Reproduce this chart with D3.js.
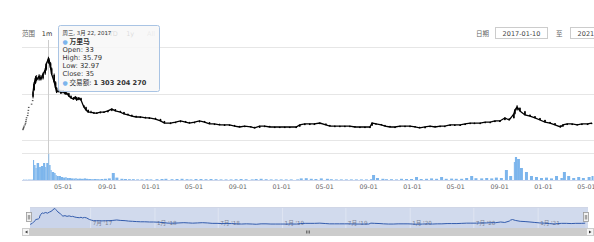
<!DOCTYPE html>
<html>
<head>
<meta charset="utf-8">
<script src="https://cdn.jsdelivr.net/npm/d3@7"></script>
<style>
  body { margin: 0; background: #fff; }
  text { font-family: "DejaVu Sans", "Noto Sans CJK SC", sans-serif; }
</style>
</head>
<body>
<div id="chart"></div>
<script>
// Declare constants
const FRAME_WIDTH = 594;
const FRAME_HEIGHT = 242;

// data: 万里马 daily candles (sampled) and 交易额
const dates = [
  "2017-01-10","2017-01-11","2017-01-12","2017-01-13","2017-01-16","2017-01-17","2017-01-18","2017-01-19",
  "2017-01-20","2017-01-23","2017-01-24","2017-01-25","2017-01-26","2017-02-03","2017-02-06",
  "2017-02-07","2017-02-10","2017-02-14","2017-02-17","2017-02-24","2017-03-01","2017-03-07","2017-03-13",
  "2017-03-16","2017-03-22","2017-03-24","2017-03-28","2017-03-31","2017-04-07","2017-04-11","2017-04-14",
  "2017-04-20","2017-04-26","2017-05-02","2017-05-08","2017-05-12","2017-05-18","2017-05-24","2017-05-31",
  "2017-06-05","2017-06-09","2017-06-15","2017-06-21","2017-06-29","2017-07-05","2017-07-11","2017-07-19",
  "2017-07-27","2017-08-04","2017-08-14","2017-08-24","2017-09-04","2017-09-15","2017-09-25","2017-10-09",
  "2017-10-19","2017-10-30","2017-11-10","2017-11-22","2017-12-04","2017-12-18","2017-12-29",
  "2018-01-15","2018-01-29","2018-02-09","2018-02-26","2018-03-12","2018-03-26","2018-04-09","2018-04-20",
  "2018-05-04","2018-05-18","2018-06-01","2018-06-15","2018-06-29","2018-07-13","2018-07-27","2018-08-10",
  "2018-08-24","2018-09-07","2018-09-21","2018-10-08","2018-10-19","2018-11-02","2018-11-16","2018-11-30",
  "2018-12-14","2018-12-28","2019-01-11","2019-01-25","2019-02-12","2019-02-22","2019-03-08","2019-03-22",
  "2019-04-04","2019-04-19","2019-05-06","2019-05-17","2019-05-31","2019-06-14","2019-06-28","2019-07-12",
  "2019-07-26","2019-08-09","2019-08-23","2019-09-06","2019-09-12","2019-09-23","2019-10-08","2019-10-18",
  "2019-11-01","2019-11-15","2019-11-29","2019-12-13","2019-12-27","2020-01-10","2020-01-23","2020-02-07",
  "2020-02-21","2020-03-06","2020-03-20","2020-04-02","2020-04-17","2020-04-30","2020-05-15","2020-05-29",
  "2020-06-12","2020-06-24","2020-07-10","2020-07-24","2020-08-07","2020-08-20","2020-09-03","2020-09-17",
  "2020-09-29","2020-10-12","2020-10-15","2020-10-21","2020-10-29","2020-11-12","2020-11-26","2020-12-10",
  "2020-12-24","2021-01-07","2021-01-21","2021-02-04","2021-02-19","2021-02-26","2021-03-10","2021-03-24",
  "2021-04-07","2021-04-20","2021-05-06","2021-05-17"
];
const open = [
  4.45,4.90,5.39,5.93,6.52,7.17,7.89,8.68,9.55,10.51,11.56,12.72,13.99,15.39,16.93,
  18.6,21.5,24.5,27.0,26.0,27.2,26.5,28.6,30.3,33,34.5,33.0,30.8,28.0,24.8,22.3,
  20.8,21.3,20.3,21.0,19.8,20.1,18.9,18.2,17.6,18.4,17.3,18.0,14.8,14.1,12.9,12.0,
  11.9,11.7,11.6,12.1,12.0,12.6,13.2,12.4,12.0,11.2,10.8,10.3,9.9,9.9,9.5,
  9.4,9.0,8.1,7.3,7.4,7.8,8.1,7.7,7.3,7.7,8.1,7.6,6.8,6.9,6.5,6.5,
  6.4,6.0,5.7,5.9,5.5,5.3,6.0,6.0,5.6,5.6,5.6,5.6,5.6,5.8,6.6,6.9,
  6.9,7.0,7.0,6.4,6.0,6.0,6.0,6.0,5.9,5.6,5.6,5.6,6.2,7.1,6.8,6.4,
  6.0,5.6,5.7,6.0,6.0,5.9,5.6,5.2,5.7,6.0,5.7,6.0,6.1,6.5,6.5,6.6,
  7.0,7.3,7.3,7.4,7.7,7.8,8.2,8.6,9.2,9.4,11.3,13.0,13.8,12.3,10.8,10.2,
  9.4,8.6,7.7,7.2,6.2,5.8,6.6,6.9,6.8,6.6,6.8,7.0
];
const high = [
  4.45,4.90,5.39,5.93,6.52,7.17,7.89,8.68,9.55,10.51,11.56,12.72,13.99,15.39,16.93,
  20.9,24.8,27.6,27.9,28.3,28.0,29.0,30.8,33.2,35.79,35.2,33.6,31.2,28.6,25.3,22.8,
  22.2,21.6,21.5,21.2,20.6,20.3,19.2,18.5,18.8,18.6,18.4,18.2,15.0,14.3,13.1,12.6,
  12.1,11.9,12.3,12.3,12.8,13.6,13.3,12.6,12.1,11.4,10.9,10.5,10.2,10.0,9.8,
  9.6,9.1,8.2,7.6,7.9,8.4,8.2,7.8,7.9,8.4,8.2,7.7,7.1,7.0,6.8,6.7,
  6.5,6.1,6.2,6.0,5.7,6.2,6.3,6.1,5.8,5.7,5.8,5.7,5.9,6.7,7.2,7.2,
  7.3,7.6,7.1,6.5,6.3,6.2,6.2,6.2,6.0,5.8,5.8,5.9,7.6,7.2,6.9,6.5,
  6.1,5.8,6.2,6.2,6.3,6.0,5.7,5.8,6.2,6.1,6.2,6.2,6.7,6.7,6.7,7.1,
  7.5,7.5,7.6,7.9,7.9,8.4,8.5,9.8,9.3,11.4,13.2,15.0,14.0,12.5,11.0,10.3,
  9.5,8.7,7.8,7.3,6.3,6.7,7.2,7.1,6.9,7.1,7.1,7.5
];
const low = [
  4.45,4.90,5.39,5.93,6.52,7.17,7.89,8.68,9.55,10.51,11.56,12.72,13.99,15.39,16.93,
  17.9,21.0,24.0,25.2,25.5,25.6,26.0,28.0,29.8,32.97,32.8,30.4,27.9,24.6,22.0,20.2,
  20.4,19.8,20.0,19.5,19.4,18.6,17.8,17.3,17.4,16.9,17.1,16.9,14.0,12.7,11.8,11.7,
  11.4,11.4,11.5,11.8,11.9,12.4,12.3,11.8,11.0,10.6,10.1,9.7,9.7,9.3,9.3,
  8.8,8.0,7.1,7.1,7.3,7.6,7.5,7.1,7.2,7.6,7.5,6.8,6.6,6.3,6.3,6.3,
  5.8,5.4,5.6,5.5,5.0,5.2,5.8,5.5,5.4,5.3,5.4,5.3,5.5,5.7,6.4,6.7,
  6.7,6.9,6.3,5.9,5.9,5.8,5.8,5.8,5.5,5.4,5.4,5.4,6.1,6.7,6.3,5.9,
  5.5,5.4,5.6,5.8,5.8,5.5,5.0,5.0,5.6,5.5,5.6,5.8,6.0,6.3,6.3,6.5,
  6.9,7.1,7.0,7.3,7.5,7.7,8.0,8.5,8.5,9.3,11.0,12.6,12.3,10.6,10.1,9.3,
  8.5,7.6,7.1,6.3,5.4,5.7,6.5,6.7,6.3,6.5,6.7,6.9
];
const close = [
  4.45,4.90,5.39,5.93,6.52,7.17,7.89,8.68,9.55,10.51,11.56,12.72,13.99,15.39,16.93,
  20.6,24.1,26.7,25.8,27.5,26.2,28.4,30.1,32.7,35,33.5,31.0,28.4,25.0,22.4,20.6,
  21.5,20.2,21.1,19.8,20.2,18.9,18.1,17.6,18.5,17.2,18.1,17.2,14.2,12.9,12.0,12.0,
  11.6,11.6,12.0,12.0,12.5,13.3,12.5,12.0,11.2,10.8,10.3,9.9,9.9,9.5,9.5,
  9.0,8.2,7.3,7.3,7.7,8.2,7.7,7.3,7.7,8.2,7.7,6.9,6.9,6.5,6.5,6.5,
  6.0,5.6,6.0,5.6,5.2,6.0,6.0,5.6,5.6,5.6,5.6,5.6,5.6,6.5,6.9,6.9,
  6.9,7.3,6.5,6.0,6.0,6.0,6.0,6.0,5.6,5.6,5.6,5.6,7.3,6.9,6.5,6.0,
  5.6,5.6,6.0,6.0,6.0,5.6,5.2,5.6,6.0,5.6,6.0,6.0,6.5,6.5,6.5,6.9,
  7.3,7.3,7.3,7.7,7.7,8.2,8.2,9.5,8.6,11.2,12.9,14.2,12.5,10.8,10.3,9.5,
  8.6,7.7,7.3,6.5,5.6,6.5,6.9,6.9,6.5,6.9,6.9,7.3
];
// 交易额, yuan
const volume = [
  2e7,1e7,1e7,1e7,1e7,1e7,1e7,1e7,1e7,1e7,1e7,1e7,2e7,2e7,3e7,
  1.0e9,7.5e8,6.0e8,8.5e8,6.5e8,7.0e8,8.5e8,6.5e8,8.5e8,1303204270,7.5e8,5.0e8,4.0e8,3.5e8,2.5e8,2.0e8,
  2.0e8,1.5e8,1.2e8,1.4e8,1.0e8,1.0e8,8e7,7e7,9e7,6e7,7e7,6e7,8e7,6e7,5e7,4e7,
  5e7,4e7,5e7,6e7,8e7,3.5e8,1.2e8,6e7,5e7,4e7,4e7,3e7,3e7,4e7,3e7,
  4e7,5e7,6e7,4e7,5e7,6e7,4e7,3e7,5e7,5e7,4e7,5e7,4e7,3e7,3e7,3e7,
  4e7,5e7,4e7,3e7,5e7,6e7,4e7,3e7,3e7,3e7,3e7,3e7,3e7,8e7,9e7,6e7,
  5e7,8e7,6e7,4e7,3e7,3e7,3e7,3e7,3e7,3e7,3e7,4e7,2.5e8,1.0e8,6e7,4e7,
  4e7,3e7,6e7,5e7,5e7,1.5e8,5e7,6e7,8e7,6e7,1.5e8,6e7,7e7,6e7,6e7,1.0e8,
  2.0e8,9e7,8e7,1.0e8,8e7,1.2e8,1.0e8,5.0e8,2.0e8,9.0e8,1.15e9,1.05e9,6.0e8,4.0e8,2.0e8,1.5e8,
  1.0e8,1.2e8,8e7,2.0e8,1.0e8,4.0e8,2.0e8,1.0e8,1.5e8,1.0e8,1.5e8,2.0e8
];
const xTickDates = ["2017-05-01","2017-09-01","2018-01-01","2018-05-01","2018-09-01","2019-01-01","2019-05-01",
  "2019-09-01","2020-01-01","2020-05-01","2020-09-01","2021-01-01","2021-05-01"];
const navTickDates = ["2017-07-01","2018-01-01","2018-07-01","2019-01-01","2019-07-01","2020-01-01",
  "2020-07-01","2021-01-01"];
const priceTicks = [0, 20, 40];
const rangeButtons = ["1m","3m","6m","YTD","1y","All"];
const hiddenButtons = ["3m","6m"]; // fully covered by the tooltip header
const tooltipRows = ["Open: 33", "High: 35.79", "Low: 32.97", "Close: 35"];

const parse = d3.timeParse("%Y-%m-%d");
const rows = dates.map((d, i) => ({date: parse(d), o: open[i], h: high[i], l: low[i], c: close[i], v: volume[i]}));

const svg = d3.select("#chart").append("svg")
  .attr("width", FRAME_WIDTH).attr("height", FRAME_HEIGHT);

// scales
const x = d3.scaleTime().domain([parse("2017-01-10"), parse("2021-05-25")]).range([23, 594.4]);
const y = d3.scaleLinear().domain([0, 40]).range([140, 47]);
const yVol = d3.scaleLinear().domain([0, 1.35e9]).range([180, 153]);
const xNav = d3.scaleTime().domain(x.domain()).range([30, 588]);
const yNav = d3.scaleLinear().domain([0, 36]).range([227, 208]);

// grid lines
svg.append("g").selectAll("line").data(priceTicks).enter().append("line")
  .attr("x1", 22).attr("x2", FRAME_WIDTH)
  .attr("y1", d => Math.round(y(d)) + 0.5).attr("y2", d => Math.round(y(d)) + 0.5)
  .attr("stroke", "#e6e6e6");
svg.append("line").attr("x1", 22).attr("x2", FRAME_WIDTH)
  .attr("y1", Math.round(yVol(1.35e9)) + 0.5).attr("y2", Math.round(yVol(1.35e9)) + 0.5)
  .attr("stroke", "#e6e6e6");

// crosshair
svg.append("line").attr("x1", Math.round(x(parse("2017-03-22"))) + 0.5).attr("x2", Math.round(x(parse("2017-03-22"))) + 0.5)
  .attr("y1", 40).attr("y2", 180).attr("stroke", "#cccccc");

// volume columns
svg.append("g").selectAll("rect").data(rows).enter().append("rect")
  .attr("x", d => x(d.date))
  .attr("width", (d, i) => i < rows.length - 1 ? Math.min(3, Math.max(0.8, x(rows[i + 1].date) - x(d.date))) : 2)
  .attr("y", d => yVol(d.v))
  .attr("height", d => 180 - yVol(d.v))
  .attr("fill", "#7cb5ec");

// x axis
const xAxis = svg.append("g").attr("transform", "translate(0,180)")
  .call(d3.axisBottom(x).tickValues(xTickDates.map(parse)).tickFormat(d3.timeFormat("%m-%d")).tickSize(0).tickPadding(5));
xAxis.select(".domain").attr("stroke", "#ccd6eb").attr("d", "M22,0.5H594");
xAxis.selectAll("text").attr("fill", "#666").style("font-size", "6.3px")
  .style("font-family", "DejaVu Sans, sans-serif");

// price: close line + candles
const isOnePrice = d => d.o === d.h && d.h === d.l && d.l === d.c;
const priceLine = d3.line().defined(d => !isOnePrice(d)).x(d => x(d.date)).y(d => y(d.c));
svg.append("path").datum(rows).attr("d", priceLine)
  .attr("fill", "none").attr("stroke", "#000").attr("stroke-width", 1.3);
const candles = svg.append("g").selectAll("g").data(rows).enter().append("g");
candles.append("line")
  .attr("x1", d => x(d.date)).attr("x2", d => x(d.date))
  .attr("y1", d => y(d.h)).attr("y2", d => y(d.l))
  .attr("stroke", "#000").attr("stroke-width", 0.9);
candles.append("rect")
  .attr("x", d => x(d.date) - 0.8).attr("width", 1.6)
  .attr("y", d => y(Math.max(d.o, d.c)) - (isOnePrice(d) ? 0.6 : 0))
  .attr("height", d => Math.max(1.1, Math.abs(y(d.o) - y(d.c))))
  .attr("fill", d => isOnePrice(d) ? "#555" : "#000");

// navigator
const nav = svg.append("g");
nav.append("path").datum(rows)
  .attr("d", d3.area().x(d => xNav(d.date)).y0(228).y1(d => yNav(d.c)))
  .attr("fill", "#335cad").attr("fill-opacity", 0.05);
nav.append("rect").attr("x", 30).attr("y", 207).attr("width", 558).attr("height", 21)
  .attr("fill", "rgba(102,133,194,0.3)");
const navAxis = nav.append("g").attr("transform", "translate(0,228)")
  .call(d3.axisBottom(xNav).tickValues(navTickDates.map(parse))
    .tickFormat(d => (d.getMonth() + 1) + "月 '" + d3.timeFormat("%y")(d)).tickSize(-21));
navAxis.select(".domain").remove();
navAxis.selectAll("line").attr("stroke", "#dfe5f2");
navAxis.selectAll("text").attr("fill", "#7a8194").style("font-size", "5.6px")
  .attr("text-anchor", "start").attr("dx", 2).attr("y", -6.5);
nav.append("path").datum(rows)
  .attr("d", d3.line().x(d => xNav(d.date)).y(d => yNav(d.c)))
  .attr("fill", "none").attr("stroke", "#335cad").attr("stroke-width", 1);
nav.append("line").attr("x1", 30).attr("x2", 588).attr("y1", 207.5).attr("y2", 207.5).attr("stroke", "#d0d6e6");
[29, 586].forEach(hx => {
  nav.append("rect").attr("x", hx - 2.5).attr("y", 212.5).attr("width", 5).attr("height", 9)
    .attr("fill", "#f2f2f2").attr("stroke", "#999").attr("stroke-width", 0.8);
  nav.append("line").attr("x1", hx - 0.7).attr("x2", hx - 0.7).attr("y1", 215).attr("y2", 219.5).attr("stroke", "#333").attr("stroke-width", 0.5);
  nav.append("line").attr("x1", hx + 0.7).attr("x2", hx + 0.7).attr("y1", 215).attr("y2", 219.5).attr("stroke", "#333").attr("stroke-width", 0.5);
});

// scrollbar
nav.append("rect").attr("x", 22).attr("y", 228).attr("width", 572).attr("height", 8).attr("fill", "#f2f2f2");
nav.append("rect").attr("x", 30).attr("y", 228).attr("width", 556).attr("height", 8).attr("fill", "#cccccc");
[[22.5, "M25,232L27.5,230.5L27.5,233.5Z"], [586.5, "M591.5,232L589,230.5L589,233.5Z"]].forEach(([bx, arrow]) => {
  nav.append("rect").attr("x", bx).attr("y", 228.5).attr("width", 7).attr("height", 7)
    .attr("fill", "#f5f5f5").attr("stroke", "#cccccc");
  nav.append("path").attr("d", arrow).attr("fill", "#333");
});
[-1.5, 0, 1.5].forEach(dx => nav.append("line").attr("x1", 308 + dx).attr("x2", 308 + dx)
  .attr("y1", 230.5).attr("y2", 233.5).attr("stroke", "#333").attr("stroke-width", 0.6));

// range selector
svg.append("text").attr("x", 22).attr("y", 36).attr("fill", "#666").style("font-size", "6.5px").text("范围");
const btnX = d3.scalePoint().domain(rangeButtons).range([47, 151]);
svg.append("g").selectAll("text").data(rangeButtons.filter(b => !hiddenButtons.includes(b))).enter().append("text")
  .attr("x", d => d === "YTD" ? btnX(d) + 2 : btnX(d)).attr("y", 36).attr("text-anchor", "middle")
  .attr("fill", d => d === "All" ? "#aaa" : "#333").style("font-size", "6.5px").text(d => d);

// date inputs
svg.append("text").attr("x", 476).attr("y", 36).attr("fill", "#666").style("font-size", "6.5px").text("日期");
svg.append("rect").attr("x", 495.5).attr("y", 27.5).attr("width", 52).attr("height", 11)
  .attr("fill", "#fff").attr("stroke", "#cccccc");
svg.append("text").attr("x", 521.5).attr("y", 36).attr("text-anchor", "middle").attr("fill", "#444")
  .style("font-size", "6.5px").text(d3.timeFormat("%Y-%m-%d")(x.domain()[0]));
svg.append("text").attr("x", 556).attr("y", 36).attr("fill", "#666").style("font-size", "6.5px").text("至");
svg.append("rect").attr("x", 570.5).attr("y", 27.5).attr("width", 52).attr("height", 11)
  .attr("fill", "#fff").attr("stroke", "#cccccc");
svg.append("text").attr("x", 596.5).attr("y", 36).attr("text-anchor", "middle").attr("fill", "#444")
  .style("font-size", "6.5px").text(dates[dates.length - 1]);

// tooltip
const tip = svg.append("g").attr("transform", "translate(58.5,25.5)");
tip.append("rect").attr("width", 101).attr("height", 66).attr("rx", 2)
  .attr("fill", "rgba(247,247,247,0.85)").attr("stroke", "#a9c4e4");
tip.append("text").attr("x", 4).attr("y", 9).attr("fill", "#333").style("font-size", "5.4px")
  .text("周三, 3月 22, 2017");
tip.append("text").attr("x", 4).attr("y", 18).attr("fill", "#7cb5ec").style("font-size", "6px").text("●");
tip.append("text").attr("x", 11).attr("y", 18).attr("fill", "#333").style("font-size", "6.8px")
  .style("font-weight", "bold").text("万里马");
tip.append("g").selectAll("text").data(tooltipRows).enter().append("text")
  .attr("x", 4).attr("y", (d, i) => 26.3 + i * 8.2).attr("fill", "#333").style("font-size", "6.8px").text(d => d);
tip.append("text").attr("x", 4).attr("y", 59.2).attr("fill", "#7cb5ec").style("font-size", "6px").text("●");
const vt = tip.append("text").attr("x", 11).attr("y", 59.2).attr("fill", "#333").style("font-size", "6.6px");
vt.append("tspan").text("交易额: ");
vt.append("tspan").style("font-weight", "bold")
  .text(d3.format(",")(volume[dates.indexOf("2017-03-22")]).replace(/,/g, " "));
</script>
</body>
</html>
